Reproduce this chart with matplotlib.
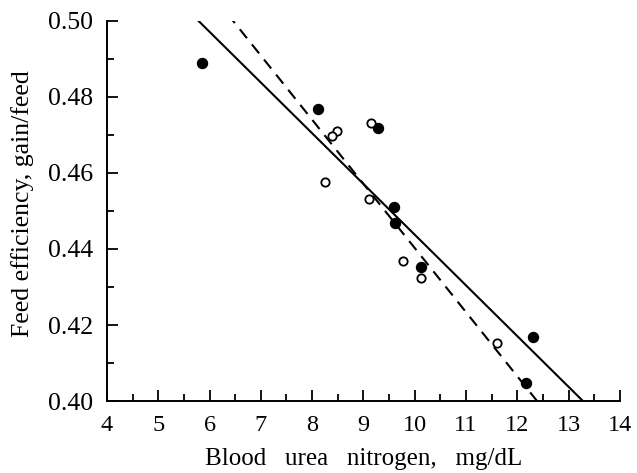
import numpy as np
import matplotlib.pyplot as plt
from matplotlib.ticker import MultipleLocator

# ========= 数据 =========
# filled circles
bun_filled = [5.85, 8.11, 9.29, 9.59, 9.61, 10.13, 12.31, 12.18]
fe_filled = [0.489, 0.4768, 0.4718, 0.4511, 0.4469, 0.4352, 0.4168, 0.4048]

# open circles
bun_open = [9.15, 8.48, 8.39, 8.26, 9.11, 9.78, 10.13, 11.60]
fe_open = [0.4732, 0.4711, 0.4697, 0.4576, 0.4532, 0.4368, 0.4323, 0.4153]

# regression lines (intercept, slope)
solid_fit = (0.5771, -0.013333)
dashed_fit = (0.6089, -0.016863)

# ========= 画图 =========
plt.rcParams["font.family"] = ["Liberation Serif", "DejaVu Serif"]

fig = plt.figure(figsize=(6.37, 4.73), dpi=100)
ax = fig.add_axes([0.168, 0.152, 0.805, 0.804])

xx = np.array([4.0, 14.0])
ax.plot(xx, solid_fit[0] + solid_fit[1] * xx, color="black", lw=1.5)
ax.plot(xx, dashed_fit[0] + dashed_fit[1] * xx, color="black", lw=1.5,
        dashes=(5.5, 3.8))

ax.plot(bun_filled, fe_filled, "o", color="black", ms=7.2, zorder=3)
ax.plot(bun_open, fe_open, "o", mfc="white", mec="black", mew=1.3, ms=6,
        zorder=3)

ax.set_xlim(4, 14)
ax.set_ylim(0.40, 0.50)
ax.xaxis.set_major_locator(MultipleLocator(1))
ax.xaxis.set_minor_locator(MultipleLocator(0.5))
ax.yaxis.set_major_locator(MultipleLocator(0.02))
ax.yaxis.set_minor_locator(MultipleLocator(0.01))
ax.yaxis.set_major_formatter(plt.FormatStrFormatter("%.2f"))

for s in ["top", "right"]:
    ax.spines[s].set_visible(False)
for s in ["left", "bottom"]:
    ax.spines[s].set_linewidth(1.4)

ax.tick_params(which="major", direction="in", length=8, width=1.3)
ax.tick_params(which="minor", direction="in", length=5, width=1.3)
ax.tick_params(axis="x", which="major", labelsize=17.5, pad=10)
ax.tick_params(axis="y", which="major", labelsize=18.5, pad=10)

ax.set_xlabel("Blood   urea   nitrogen,   mg/dL", fontsize=18, labelpad=9)
ax.set_ylabel("Feed efficiency, gain/feed", fontsize=18.5)
ax.yaxis.set_label_coords(-0.142, 0.52)

fig.savefig("out.png", dpi=100)
